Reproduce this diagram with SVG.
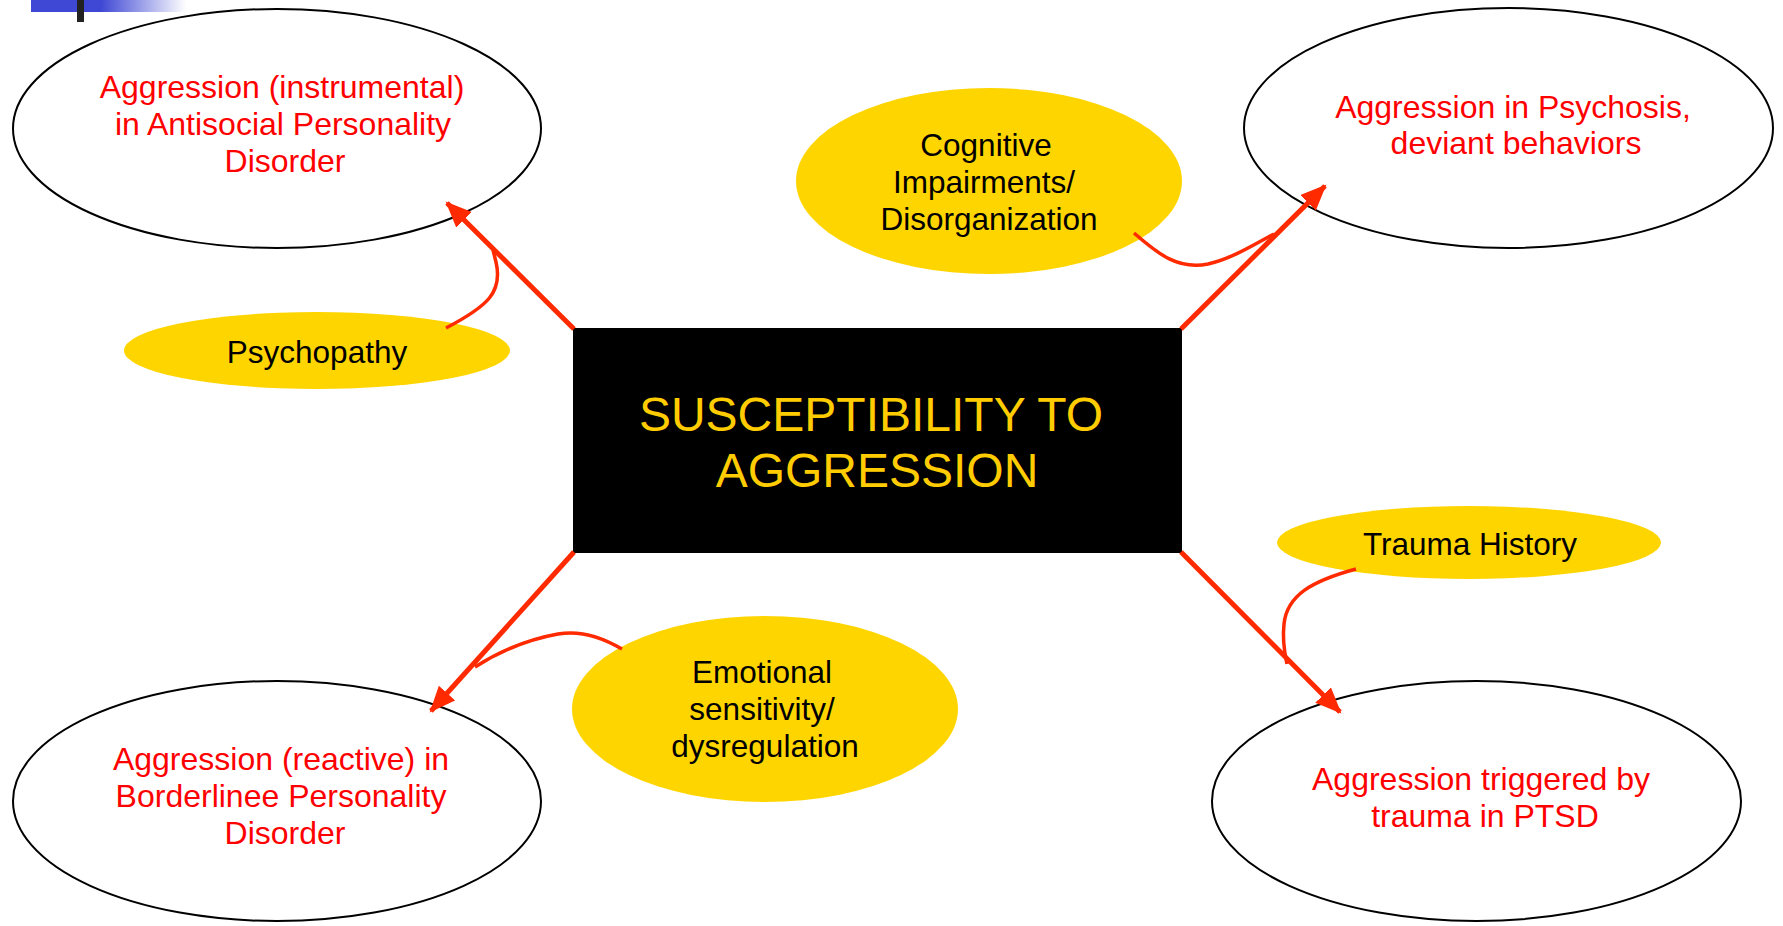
<svg xmlns="http://www.w3.org/2000/svg" width="1783" height="926" viewBox="0 0 1783 926">
<style>
.outcome{fill:#fff;stroke:#000;stroke-width:2}
.factor{fill:#FFD500;stroke:none}
.rt{font-family:"Liberation Sans",Arial,sans-serif;font-size:32px;fill:#FF0000;text-anchor:middle}
.bt{font-family:"Liberation Sans",Arial,sans-serif;font-size:31.5px;fill:#000;text-anchor:middle}
.ct{font-family:"Liberation Sans",Arial,sans-serif;font-size:48px;fill:#FFCC00;text-anchor:middle}
.main{stroke:#FF2A00;stroke-width:5;fill:none;marker-end:url(#ah)}
.curve{stroke:#FF2A00;stroke-width:3.5;fill:none}
</style>
<defs>
<marker id="ah" markerUnits="userSpaceOnUse" markerWidth="28" markerHeight="24" refX="24" refY="11" orient="auto">
<path d="M0,0 L26,11 L0,22 Z" fill="#FF2A00"/>
</marker>
<linearGradient id="bar" x1="0" y1="0" x2="1" y2="0">
<stop offset="0" stop-color="#3F48D4"/>
<stop offset="0.45" stop-color="#3F48D4"/>
<stop offset="1" stop-color="#FFFFFF"/>
</linearGradient>
</defs>
<rect x="31" y="0" width="155" height="12" fill="url(#bar)"/>
<rect x="77" y="0" width="7" height="22" fill="#222"/>

<g id="center">
<rect x="573" y="328" width="609" height="225" fill="#000"/>
<text class="ct" x="871" y="431">SUSCEPTIBILITY TO</text>
<text class="ct" x="877" y="487">AGGRESSION</text>
</g>

<g id="antisocial">
<ellipse class="outcome" cx="277" cy="128.5" rx="264" ry="119.5"/>
<text class="rt" x="282" y="98">Aggression (instrumental)</text>
<text class="rt" x="283" y="135">in Antisocial Personality</text>
<text class="rt" x="285" y="172">Disorder</text>
</g>

<g id="psychosis">
<ellipse class="outcome" cx="1508.5" cy="128" rx="264.5" ry="120"/>
<text class="rt" x="1513" y="118">Aggression in Psychosis,</text>
<text class="rt" x="1516" y="154">deviant behaviors</text>
</g>

<g id="borderline">
<ellipse class="outcome" cx="277" cy="801" rx="264" ry="120"/>
<text class="rt" x="281" y="770">Aggression (reactive) in</text>
<text class="rt" x="281" y="807">Borderlinee Personality</text>
<text class="rt" x="285" y="844">Disorder</text>
</g>

<g id="ptsd">
<ellipse class="outcome" cx="1476.5" cy="801" rx="264.5" ry="120"/>
<text class="rt" x="1481" y="790">Aggression triggered by</text>
<text class="rt" x="1485" y="827">trauma in PTSD</text>
</g>

<g id="psychopathy">
<ellipse class="factor" cx="317" cy="350.5" rx="193" ry="38.5"/>
<text class="bt" x="317" y="363">Psychopathy</text>
</g>

<g id="cognitive">
<ellipse class="factor" cx="989" cy="181" rx="193" ry="93"/>
<text class="bt" x="986" y="156">Cognitive</text>
<text class="bt" x="984" y="193">Impairments/</text>
<text class="bt" x="989" y="230">Disorganization</text>
</g>

<g id="trauma">
<ellipse class="factor" cx="1469" cy="542.5" rx="192" ry="36.5"/>
<text class="bt" x="1470" y="555">Trauma History</text>
</g>

<g id="emotional">
<ellipse class="factor" cx="765" cy="709" rx="193" ry="93"/>
<text class="bt" x="762" y="683">Emotional</text>
<text class="bt" x="762" y="720">sensitivity/</text>
<text class="bt" x="765" y="757">dysregulation</text>
</g>

<g id="connectors">
<line class="main" x1="574" y1="329" x2="447" y2="203"/>
<line class="main" x1="1181" y1="329" x2="1325" y2="186"/>
<line class="main" x1="574" y1="552" x2="431" y2="711"/>
<line class="main" x1="1181" y1="552" x2="1340" y2="712"/>
<path class="curve" d="M446,328 C488,306 503,292 496,262 L493,250"/>
<path class="curve" d="M1134,233 C1158,254 1178,270 1208,264 C1234,258 1258,242 1274,234"/>
<path class="curve" d="M1356,569 C1312,581 1287,595 1284,624 C1282,643 1285,654 1287,664"/>
<path class="curve" d="M622,649 C600,636 580,630 558,634 C530,639 500,651 475,667"/>
</g>
</svg>
